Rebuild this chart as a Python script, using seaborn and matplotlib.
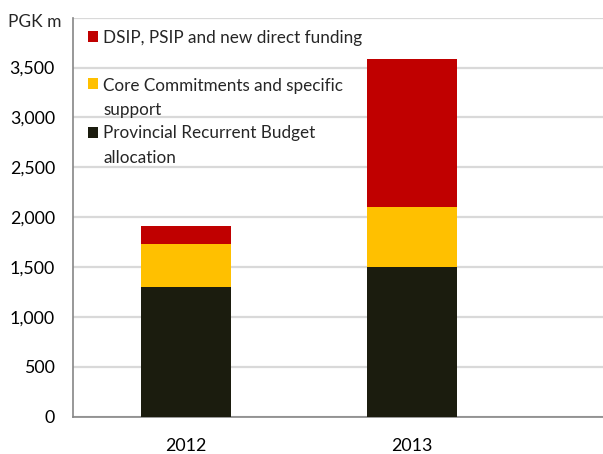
import matplotlib
matplotlib.use("Agg")
import matplotlib.pyplot as plt
from matplotlib.patches import Rectangle
import seaborn as sns
import pandas as pd
import numpy as np

years = ["2012", "2013"]
recurrent = [1300, 1500]
core = [430, 600]
dsip = [180, 1490]
series_labels = [["DSIP, PSIP and new direct funding"],
                 ["Core Commitments and specific", "support"],
                 ["Provincial Recurrent Budget", "allocation"]]
colors = ["#C00000", "#FFC000", "#1B1C0E"]
yticks = [0, 500, 1000, 1500, 2000, 2500, 3000, 3500]

sns.set_theme(style="white")
plt.rcParams['font.family'] = ['Lato', 'DejaVu Sans']

W, H = 603, 454
fig = plt.figure(figsize=(W / 100, H / 100), dpi=100)
ax = fig.add_axes([0.121, 0.082, 0.879, 0.879])

rec = np.array(recurrent)
cor = rec + np.array(core)
tot = cor + np.array(dsip)
df = pd.DataFrame({"year": years, "total": tot, "core": cor, "rec": rec})

for col, c in zip(["total", "core", "rec"], colors):
    sns.barplot(data=df, x="year", y=col, color=c, width=0.4, ax=ax,
                saturation=1, linewidth=0, zorder=3)

ax.set_ylim(0, 4000)
ax.set_xlim(-0.5, 1.845)
ax.set_yticks(yticks + [4000])
ax.set_yticklabels([f"{v:,}" for v in yticks] + [""])
ax.yaxis.grid(True, color="#D9D9D9", linewidth=1.6, zorder=0)
ax.set_axisbelow(True)
ax.set_xlabel("")
ax.set_ylabel("")
for s in ["top", "right"]:
    ax.spines[s].set_visible(False)
for s in ["left", "bottom"]:
    ax.spines[s].set_color("#868686")
    ax.spines[s].set_linewidth(1.2)
ax.tick_params(axis="both", labelsize=12.8, colors="#000000", length=0)
ax.tick_params(axis="y", pad=13)
ax.tick_params(axis="x", pad=15)
fig.text(8 / W, 1 - 27 / H, "PGK m", fontsize=12.5, va="baseline", ha="left")

# legend, drawn as squares and text lines (first line aligned with marker)
marker_tops = [31, 78, 127]
baselines = [[43], [91, 115], [138, 163]]
for c, top, lines, bls in zip(colors, marker_tops, series_labels, baselines):
    fig.patches.append(Rectangle((88 / W, 1 - (top + 11) / H), 10 / W, 11 / H,
                                 transform=fig.transFigure, facecolor=c,
                                 edgecolor="none", zorder=5))
    for line, bl in zip(lines, bls):
        fig.text(103 / W, 1 - bl / H, line, fontsize=12.3, va="baseline",
                 ha="left", zorder=5)

fig.savefig("out.png", dpi=100)
